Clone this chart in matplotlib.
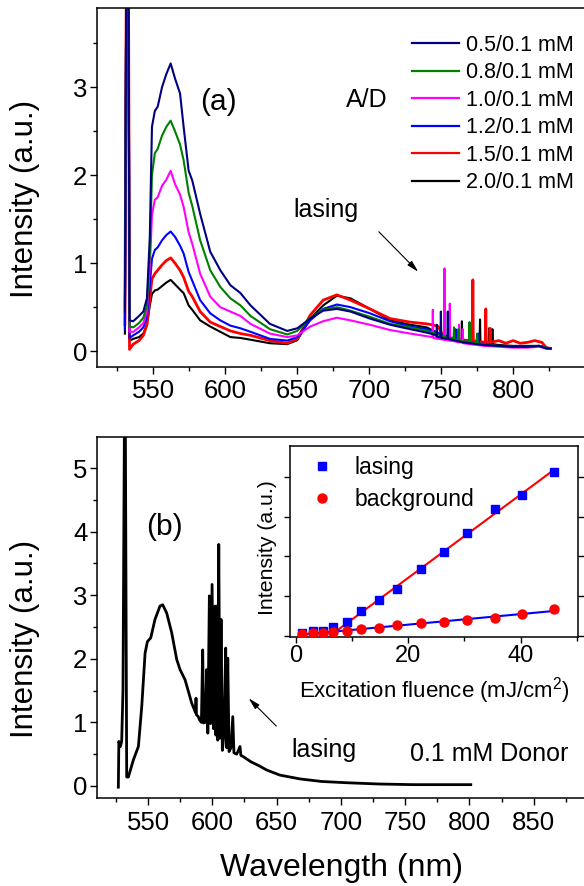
import numpy as np
import matplotlib
matplotlib.use('Agg')
import matplotlib.pyplot as plt
from matplotlib.lines import Line2D

plt.rcParams['font.family'] = ['Liberation Sans', 'DejaVu Sans']
plt.rcParams['mathtext.fontset'] = 'custom'
plt.rcParams['mathtext.rm'] = 'Liberation Sans'
plt.rcParams['axes.linewidth'] = 1.1

# ---- panel (a): emission spectra for several A/D ratios ----
labels_a = ['0.5/0.1 mM', '0.8/0.1 mM', '1.0/0.1 mM', '1.2/0.1 mM', '1.5/0.1 mM', '2.0/0.1 mM']
colors_a = ['#000080', '#008000', '#ff00ff', '#0000ff', '#ff0000', '#000000']

# common wavelength grid for the broad emission part (nm)
wl_base = [530.2, 531.6, 532.4, 533.4, 536, 540, 543, 545.5, 547.5, 549,
           551, 553, 556, 559, 562, 565, 568.5, 571, 574.5, 577,
           582.5, 589.5, 596.5, 603.5, 610.5, 617.5, 631, 643, 650, 659,
           668, 677.5, 687, 700.5, 714.5, 728.5, 740]

base_05 = [0.45, 6, 6, 0.35, 0.34, 0.40, 0.45, 0.60, 1.30, 2.55,
           2.73, 2.78, 3.00, 3.15, 3.27, 3.10, 2.93, 2.55, 2.05, 1.94,
           1.56, 1.13, 0.92, 0.75, 0.66, 0.52, 0.31, 0.23, 0.26, 0.37,
           0.46, 0.48, 0.45, 0.37, 0.30, 0.25, 0.21]
base_08 = [0.50, 6, 6, 0.28, 0.27, 0.32, 0.38, 0.52, 1.10, 2.00,
           2.25, 2.30, 2.45, 2.55, 2.62, 2.50, 2.35, 2.17, 1.80, 1.65,
           1.26, 0.92, 0.73, 0.60, 0.52, 0.40, 0.25, 0.19, 0.23, 0.38,
           0.47, 0.50, 0.46, 0.39, 0.31, 0.27, 0.23]
base_10 = [0.55, 6, 6, 0.22, 0.22, 0.27, 0.32, 0.45, 0.95, 1.55,
           1.72, 1.75, 1.88, 1.95, 2.05, 1.90, 1.78, 1.64, 1.35, 1.22,
           0.88, 0.62, 0.50, 0.45, 0.40, 0.31, 0.20, 0.16, 0.18, 0.28,
           0.34, 0.38, 0.35, 0.30, 0.24, 0.20, 0.17]
base_12 = [0.25, 6, 6, 0.15, 0.18, 0.22, 0.27, 0.38, 0.75, 1.05,
           1.15, 1.18, 1.26, 1.32, 1.36, 1.30, 1.20, 1.11, 0.90, 0.80,
           0.58, 0.43, 0.35, 0.29, 0.26, 0.22, 0.14, 0.12, 0.16, 0.35,
           0.48, 0.53, 0.50, 0.43, 0.34, 0.28, 0.25]
base_15 = [0.30, 6, 6, 0.02, 0.08, 0.12, 0.18, 0.30, 0.60, 0.82,
           0.88, 0.92, 0.98, 1.03, 1.06, 1.00, 0.92, 0.84, 0.68, 0.62,
           0.45, 0.33, 0.28, 0.23, 0.20, 0.18, 0.12, 0.09, 0.14, 0.41,
           0.58, 0.64, 0.58, 0.48, 0.37, 0.33, 0.31]
base_20 = [0.20, 6, 6, 0.12, 0.14, 0.16, 0.20, 0.30, 0.52, 0.65,
           0.69, 0.70, 0.74, 0.78, 0.81, 0.76, 0.70, 0.66, 0.52, 0.47,
           0.35, 0.28, 0.22, 0.16, 0.15, 0.13, 0.09, 0.08, 0.125, 0.37,
           0.52, 0.63, 0.60, 0.48, 0.35, 0.30, 0.27]

# lasing region (740-826 nm), with the narrow lasing spikes
tail_wl_05 = [745, 746.7, 747, 747.3, 749.5, 749.8, 750.1, 754.3, 754.6, 754.9,
              757, 760, 765, 770, 780, 790, 800, 810, 818, 823, 826]
tail_05 = [0.19, 0.17, 0.30, 0.16, 0.16, 0.45, 0.15, 0.14, 0.45, 0.14,
           0.13, 0.12, 0.10, 0.09, 0.07, 0.06, 0.05, 0.05, 0.06, 0.03, 0.03]
tail_wl_08 = [746, 752, 758.6, 758.9, 759.2, 761.7, 762, 762.3, 766, 769.4,
              769.7, 770, 774.7, 775, 775.3, 780, 790, 800, 810, 818, 823, 826]
tail_08 = [0.20, 0.17, 0.14, 0.27, 0.13, 0.13, 0.25, 0.12, 0.11, 0.11,
           0.33, 0.10, 0.10, 0.20, 0.09, 0.08, 0.06, 0.05, 0.05, 0.06, 0.04, 0.03]
tail_wl_10 = [743.9, 744.2, 744.5, 748, 752.0, 752.3, 752.6, 755.7, 756, 756.3,
              760, 762.1, 762.4, 762.7, 764.7, 765, 765.3, 770, 780, 790,
              800, 810, 818, 823, 826]
tail_10 = [0.16, 0.47, 0.15, 0.14, 0.13, 0.94, 0.13, 0.12, 0.54, 0.12,
           0.11, 0.10, 0.30, 0.10, 0.10, 0.25, 0.09, 0.08, 0.06, 0.05,
           0.04, 0.04, 0.05, 0.03, 0.03]
tail_wl_12 = [746, 752, 759.7, 760, 760.3, 766, 775.7, 776, 776.3, 780,
              790, 800, 810, 818, 823, 826]
tail_12 = [0.22, 0.18, 0.14, 0.25, 0.13, 0.11, 0.09, 0.20, 0.09, 0.08,
           0.06, 0.05, 0.05, 0.06, 0.04, 0.03]
tail_wl_15 = [744, 748, 752, 760, 771.7, 772, 772.3, 776, 780.7, 781,
              781.3, 783.8, 784, 784.2, 790, 795, 800, 805, 810, 815,
              820, 823, 826]
tail_15 = [0.30, 0.28, 0.15, 0.13, 0.12, 0.81, 0.12, 0.11, 0.10, 0.48,
           0.10, 0.10, 0.26, 0.10, 0.12, 0.09, 0.12, 0.09, 0.10, 0.12,
           0.10, 0.04, 0.03]
tail_wl_20 = [746, 752, 760, 764.1, 764.4, 764.7, 770, 776.7, 777, 777.3,
              783, 783.3, 783.6, 785.3, 785.6, 785.9, 790, 800, 810, 818,
              823, 826]
tail_20 = [0.22, 0.16, 0.12, 0.11, 0.34, 0.11, 0.10, 0.09, 0.36, 0.09,
           0.08, 0.26, 0.08, 0.08, 0.25, 0.08, 0.07, 0.06, 0.06, 0.06,
           0.04, 0.03]

bases = [base_05, base_08, base_10, base_12, base_15, base_20]
tails_wl = [tail_wl_05, tail_wl_08, tail_wl_10, tail_wl_12, tail_wl_15, tail_wl_20]
tails = [tail_05, tail_08, tail_10, tail_12, tail_15, tail_20]

# ---- panel (b): 0.1 mM donor spectrum ----
wl_b = [526.9, 527.3, 528.5, 529.5, 530.5, 531.7, 532.3, 533.4, 534.7, 538.6,
        542.5, 545.1, 547.7, 549.5, 552.1, 555.4, 559.3, 561.4, 564.5, 568.4,
        572.3, 574.9, 578.8, 584, 587.0, 587.3, 587.6, 589.1, 590, 591.5,
        592.5, 593.2, 594.5, 595.6, 596.5, 597.7, 598.6, 599.8, 600.9, 602.1,
        602.7, 603.4, 604.2, 605.0, 605.9, 606.8, 607.8, 609.0, 610.4, 611.2,
        612.0, 613.0, 614.5, 615.9, 616.8, 619.0, 621.5, 622.2, 624.1, 630,
        637, 642.3, 652.6, 668.2, 685, 704.5, 730, 756.3, 780, 801]
int_b = [-0.02, 0.70, 0.62, 0.70, 1.50, 6, 6, 0.14, 0.14, 0.41,
         0.62, 1.25, 2.09, 2.27, 2.33, 2.62, 2.83, 2.85, 2.72, 2.41,
         1.99, 1.83, 1.67, 1.30, 1.15, 1.38, 1.12, 1.09, 1.04, 1.00,
         2.14, 0.99, 1.00, 1.83, 0.83, 2.99, 0.98, 3.17, 0.90, 2.83,
         0.80, 2.83, 0.72, 3.80, 0.75, 2.62, 0.56, 0.80, 2.17, 0.60,
         2.01, 0.54, 0.60, 1.09, 0.52, 0.50, 0.62, 0.48, 0.46, 0.38,
         0.31, 0.25, 0.17, 0.11, 0.07, 0.05, 0.03, 0.02, 0.02, 0.02]

# ---- inset: intensity vs excitation fluence ----
fluence = [1.2, 3.0, 4.8, 6.6, 9.1, 11.7, 14.8, 18.1, 22.2, 26.4, 30.5, 35.4, 40.2, 45.9]
lasing = [0.07, 0.11, 0.13, 0.22, 0.34, 0.62, 0.89, 1.18, 1.67, 2.12, 2.60, 3.19, 3.55, 4.13]
background = [0.05, 0.07, 0.08, 0.09, 0.13, 0.17, 0.20, 0.26, 0.32, 0.36, 0.40, 0.46, 0.54, 0.67]

W, H = 584, 886
fig = plt.figure(figsize=(W / 100, H / 100), dpi=100)


def px_axes(l, t, r, b):
    return fig.add_axes([l / W, 1 - b / H, (r - l) / W, (b - t) / H])


def style_axes(ax):
    ax.spines['right'].set_visible(False)
    ax.tick_params(which='both', direction='out', top=False, right=False,
                   labelsize=18.5, width=1.0)
    ax.tick_params(which='major', length=5)
    ax.tick_params(which='minor', length=3)
    ax.tick_params(axis='x', pad=4)
    ax.tick_params(axis='y', pad=2)


# panel (a)
ax1 = px_axes(97, 8, 596, 367)
for i in reversed(range(6)):
    x = np.concatenate([wl_base, tails_wl[i]])
    y = np.concatenate([bases[i], tails[i]])
    ax1.plot(x, y, color=colors_a[i], lw=2.0 if i == 4 else 1.5)
ax1.set_xlim(510.8, 857.6)
ax1.set_ylim(-0.18, 3.9)
ax1.set_xticks([550, 600, 650, 700, 750, 800])
ax1.set_xticks([525, 575, 625, 675, 725, 775, 825, 850], minor=True)
ax1.set_yticks([0, 1, 2, 3])
ax1.set_yticks([0.5, 1.5, 2.5, 3.5], minor=True)
style_axes(ax1)
ax1.set_ylabel('Intensity (a.u.)', fontsize=22.5)
ax1.yaxis.set_label_coords(-0.114, 0.468)

handles = [Line2D([], [], color=c, lw=1.6) for c in colors_a]
ax1.legend(handles, labels_a, loc='upper left', bbox_to_anchor=(412 / W, 1 - 35 / H),
           bbox_transform=fig.transFigure, frameon=False, fontsize=15.5,
           handlelength=2.2, handletextpad=0.3, labelspacing=0.3,
           borderpad=0, borderaxespad=0)
ax1.text(595.1, 2.83, '(a)', fontsize=21.5, ha='center', va='center')
ax1.text(698.4, 2.85, 'A/D', fontsize=18, ha='center', va='center')
ax1.text(669.9, 1.60, 'lasing', fontsize=18, ha='center', va='center')
ax1.annotate('', xy=(735.4, 0.88), xytext=(705.3, 1.38),
             arrowprops=dict(arrowstyle='-|>,head_length=0.7,head_width=0.18',
                             color='black', lw=0.8))

# panel (b)
ax2 = px_axes(97, 437, 596, 798)
ax2.plot(wl_b, int_b, color='black', lw=2.0)
ax2.set_xlim(510.3, 898.4)
ax2.set_ylim(-0.19, 5.49)
ax2.set_xticks([550, 600, 650, 700, 750, 800, 850])
ax2.set_xticks([525, 575, 625, 675, 725, 775, 825, 875], minor=True)
ax2.set_yticks([0, 1, 2, 3, 4, 5])
ax2.set_yticks([0.5, 1.5, 2.5, 3.5, 4.5], minor=True)
style_axes(ax2)
ax2.set_ylabel('Intensity (a.u.)', fontsize=22.5)
ax2.yaxis.set_label_coords(-0.114, 0.44)
ax2.set_xlabel('Wavelength (nm)', fontsize=23)
ax2.xaxis.set_label_coords(0.49, -0.152)
ax2.text(562.4, 4.07, '(b)', fontsize=21.5, ha='center', va='center')
ax2.text(686.9, 0.56, 'lasing', fontsize=18, ha='center', va='center')
ax2.text(815.7, 0.51, '0.1 mM Donor', fontsize=18, ha='center', va='center')
ax2.annotate('', xy=(626.7, 1.41), xytext=(651.3, 0.91),
             arrowprops=dict(arrowstyle='-|>,head_length=0.7,head_width=0.18',
                             color='black', lw=0.8))

# inset
ax3 = px_axes(290, 446, 578, 637)
ax3.plot(fluence, lasing, 's', color='#0000ff', ms=6, label='lasing', zorder=3)
ax3.plot(fluence, background, 'o', color='#ff0000', ms=6.5, label='background', zorder=3)
fl = np.array(fluence)
sel = fl > 8
k1, b1 = np.polyfit(fl[sel], np.array(lasing)[sel], 1)
k2, b2 = np.polyfit(fl, np.array(background), 1)
xa = np.array([6.6, fl[-1]])
xb = np.array([fl[0], fl[-1]])
ax3.plot(xa, k1 * xa + b1, color='#ff0000', lw=1.5, zorder=2)
ax3.plot(xb, k2 * xb + b2, color='#0000ff', lw=1.5, zorder=2)
ax3.set_xlim(-1.0, 50.2)
ax3.set_ylim(-0.03, 4.78)
ax3.set_xticks([0, 20, 40])
ax3.set_xticks([10, 30, 50], minor=True)
ax3.set_yticks([0, 1, 2, 3, 4])
ax3.set_yticklabels([])
ax3.tick_params(which='both', direction='out', top=False, right=True,
                labelsize=17, width=1.0, pad=2)
ax3.tick_params(which='major', length=4)
ax3.tick_params(which='minor', length=3)
ax3.set_xlabel('Excitation fluence (mJ/cm$^2$)', fontsize=16)
ax3.xaxis.set_label_coords(0.5, -0.199)
ax3.set_ylabel('Intensity (a.u.)', fontsize=15.3)
ax3.yaxis.set_label_coords(-0.045, 0.469)
ax3.legend(loc='upper left', bbox_to_anchor=(311 / W, 1 - 456 / H),
           bbox_transform=fig.transFigure, frameon=False, fontsize=16.5,
           handlelength=1.0, handletextpad=0.92, labelspacing=0.4,
           borderpad=0, borderaxespad=0)

fig.savefig('out.png', dpi=100)
